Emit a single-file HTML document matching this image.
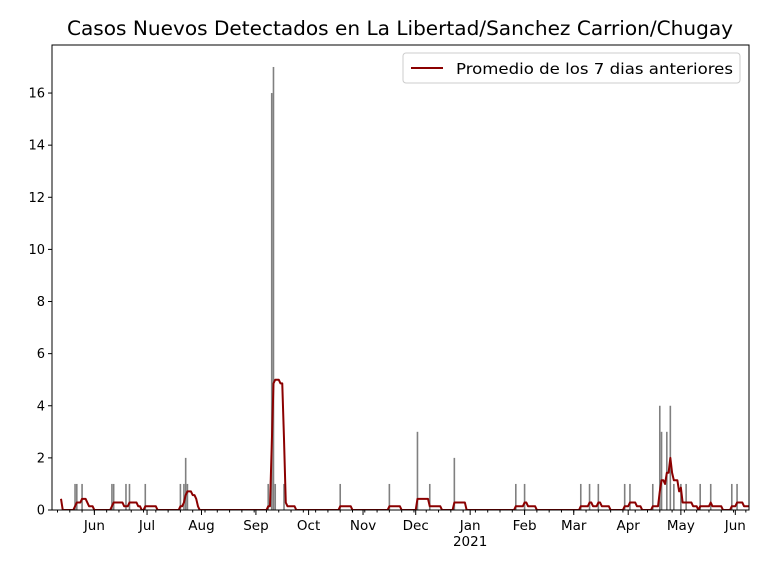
<!DOCTYPE html>
<html><head><meta charset="utf-8"><style>
body{margin:0;background:#fff;font-family:"Liberation Sans","DejaVu Sans",sans-serif}
svg text{font-family:"DejaVu Sans","Liberation Sans",sans-serif}
</style></head><body>
<svg id="chart" width="768" height="576" xmlns="http://www.w3.org/2000/svg"></svg>
<script>
// daily new cases: [day offset from 2020-05-13, count]
const caseDays = [-6,8,9,12,29,30,37,39,48,68,70,71,72,118,120,121,122,127,159,187,203,210,224,259,264,296,301,306,321,324,337,341,342,345,347,349,353,356,364,370,382,385,392];
const caseCounts = [3,1,1,1,1,1,1,1,1,1,1,2,1,1,16,17,1,1,1,1,3,1,2,1,1,1,1,1,1,1,1,4,3,3,4,1,1,1,1,1,1,1,1];
const monthLabels = ["Jun","Jul","Aug","Sep","Oct","Nov","Dec","Jan","Feb","Mar","Apr","May","Jun"];
const monthDays = [19,49,80,111,141,172,202,233,264,292,323,353,384];
const yTicks = [0,2,4,6,8,10,12,14,16];
const lastDay = 392;

const svg = document.getElementById('chart');
const NS = 'http://www.w3.org/2000/svg';
const L=52,R=749,T=45,B=510;
const x = d => 61 + d*1.756;
const y = v => B - v*26.06;
function mk(tag, attrs, parent){const e=document.createElementNS(NS,tag);for(const k in attrs)e.setAttribute(k,attrs[k]);(parent||svg).appendChild(e);return e;}

const title = mk('text',{x:400,y:35,'text-anchor':'middle','font-size':'19.5',textLength:'666',lengthAdjust:'spacingAndGlyphs'});


title.textContent='Casos Nuevos Detectados en La Libertad/Sanchez Carrion/Chugay';

const clip = mk('clipPath',{id:'pc'}); mk('rect',{x:L,y:T,width:R-L,height:B-T},clip);
const plot = mk('g',{'clip-path':'url(#pc)'});



caseDays.forEach((d,i)=>{
  const b = mk('rect',{x:x(d)-0.8,y:y(caseCounts[i]),width:1.6,height:B-y(caseCounts[i]),fill:'#808080'},plot);
  
  
});
const daily = {};
caseDays.forEach((d,i)=>{daily[d]=(daily[d]||0)+caseCounts[i];});
let pts=[];
for(let d=0; d<=lastDay; d++){
  let s=0; for(let k=d-6;k<=d;k++) s+=daily[k]||0;
  pts.push(x(d).toFixed(2)+','+y(s/7).toFixed(2));
}
const line = mk('polyline',{points:pts.join(' '),fill:'none',stroke:'#8b0000','stroke-width':2,'stroke-linejoin':'round'},plot);



const frame = mk('rect',{x:L,y:T,width:R-L,height:B-T,fill:'none',stroke:'#000','stroke-width':1});



yTicks.forEach(v=>{
  mk('line',{x1:L-4,x2:L,y1:y(v),y2:y(v),stroke:'#000'});
  const t = mk('text',{x:L-7,y:y(v)+4.5,'text-anchor':'end','font-size':'13'});
  
  
  t.textContent=v;
});
for(let d=-2; x(d)<=R; d+=7){ if(x(d)>=L) mk('line',{x1:x(d),x2:x(d),y1:B,y2:B+2.5,stroke:'#000'}); }
monthDays.forEach((d,i)=>{
  mk('line',{x1:x(d),x2:x(d),y1:B,y2:B+5,stroke:'#000'});
  const t = mk('text',{x:x(d),y:B+20,'text-anchor':'middle','font-size':'13.5'});
  
  
  t.textContent=monthLabels[i];
});
const yr = mk('text',{x:x(233),y:B+36,'text-anchor':'middle','font-size':'13.5'});


yr.textContent='2021';

const lg = mk('g',{});


mk('rect',{x:403,y:53,width:337,height:30,rx:3,fill:'#fff',stroke:'#ccc'},lg);
mk('line',{x1:411,x2:443,y1:68,y2:68,stroke:'#8b0000','stroke-width':2},lg);
const lt = mk('text',{x:456,y:74,'font-size':'15.5',textLength:'277',lengthAdjust:'spacingAndGlyphs'},lg);


lt.textContent='Promedio de los 7 dias anteriores';
</script>
</body></html>
